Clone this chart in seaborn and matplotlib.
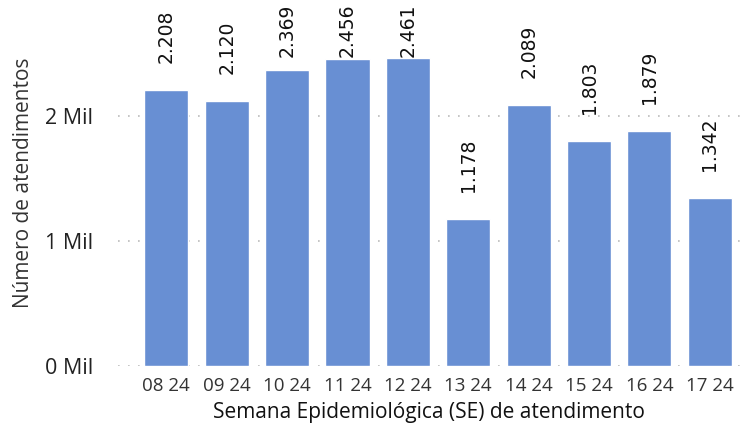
import numpy as np
import pandas as pd
import matplotlib
matplotlib.use("Agg")
import matplotlib.pyplot as plt
import seaborn as sns

# dados
semanas = ["08 24", "09 24", "10 24", "11 24", "12 24",
           "13 24", "14 24", "15 24", "16 24", "17 24"]
atendimentos = [2208, 2120, 2369, 2456, 2461, 1178, 2089, 1803, 1879, 1342]
rotulos = ["2.208", "2.120", "2.369", "2.456", "2.461",
           "1.178", "2.089", "1.803", "1.879", "1.342"]

df = pd.DataFrame({"SE": semanas, "n": atendimentos})

sns.set_theme(style="white")
plt.rcParams["font.family"] = ["Open Sans", "DejaVu Sans"]

fig = plt.figure(figsize=(7.52, 4.28), dpi=100)
ax = fig.add_axes([118 / 752, 1 - 366 / 428, (740 - 118) / 752, 366 / 428])

sns.barplot(data=df, x="SE", y="n", color="#688FD3", saturation=1,
            width=0.73, ax=ax, zorder=3)

ax.set_ylim(0, 2928)
ax.set_xlim(-0.8, 9.5)
ax.set_yticks([0, 1000, 2000])
ax.set_yticklabels(["0 Mil", "1 Mil", "2 Mil"], fontsize=15.5, color="#222222")
ax.tick_params(axis="x", labelsize=13.5, colors="#333333", length=0, pad=8)
ax.tick_params(axis="y", length=0, pad=18)
ax.grid(axis="y", color="#BBBBBB", linestyle=(0, (1, 5)), linewidth=1.2, zorder=0)
ax.grid(axis="x", visible=False)
for s in ax.spines.values():
    s.set_visible(False)

ax.set_xlabel("Semana Epidemiológica (SE) de atendimento", fontsize=15,
              color="#111111", labelpad=5)
ax.set_ylabel("Número de atendimentos", fontsize=15, color="#333333", labelpad=8)

# rotulos de valor, limitados ao topo
offset = 216
topo = 2470
for i, (v, t) in enumerate(zip(atendimentos, rotulos)):
    y = min(v + offset, topo)
    ax.text(i, y, t, rotation=90, ha="center", va="bottom", fontsize=13.5,
            color="#111111", family=["DejaVu Sans"], clip_on=False, zorder=5)

fig.savefig("out.png", dpi=100)
